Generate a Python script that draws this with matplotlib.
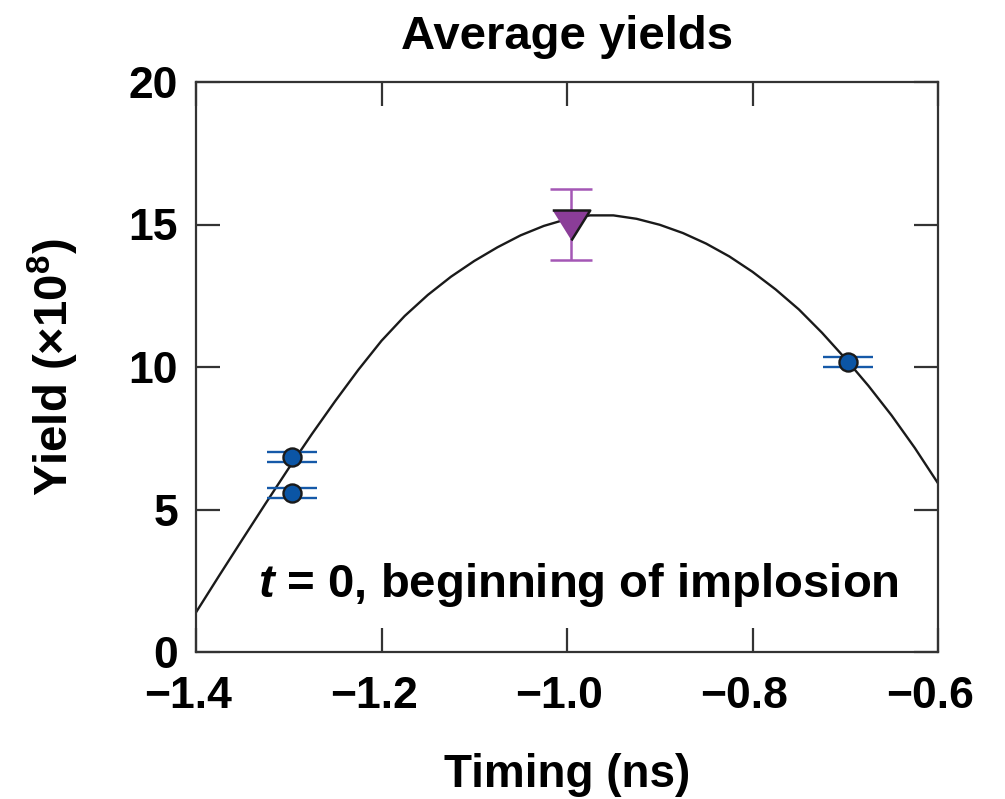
import matplotlib
matplotlib.use('Agg')
import matplotlib.pyplot as plt
from matplotlib.transforms import ScaledTranslation

plt.rcParams['font.family'] = ['Liberation Sans', 'DejaVu Sans']
plt.rcParams['font.weight'] = 'bold'
plt.rcParams['mathtext.fontset'] = 'custom'
plt.rcParams['mathtext.rm'] = 'Liberation Sans:bold'
plt.rcParams['mathtext.it'] = 'Liberation Sans:italic:bold'
plt.rcParams['mathtext.bf'] = 'Liberation Sans:bold'

# fit curve
curve_x = [-1.400, -1.375, -1.350, -1.325, -1.300, -1.275, -1.250, -1.225,
           -1.200, -1.175, -1.150, -1.125, -1.100, -1.075, -1.050, -1.025,
           -1.000, -0.975, -0.950, -0.925, -0.900, -0.875, -0.850, -0.825,
           -0.800, -0.775, -0.750, -0.725, -0.700, -0.675, -0.650, -0.625,
           -0.600]
curve_y = [1.39, 2.68, 3.95, 5.21, 6.45, 7.65, 8.80, 9.90,
           10.92, 11.79, 12.53, 13.17, 13.72, 14.20, 14.62, 14.95,
           15.19, 15.32, 15.32, 15.20, 14.99, 14.70, 14.33, 13.88,
           13.34, 12.72, 12.02, 11.20, 10.30, 9.34, 8.30, 7.16,
           5.92]

# blue shots
blue_x = [-1.297, -1.297, -0.697]
blue_y = [6.85, 5.58, 10.17]
blue_err = [0.17, 0.17, 0.17]

# purple average
purple_x = [-0.996]
purple_y = [15.0]
purple_err = [1.25]

xticks = [-1.4, -1.2, -1.0, -0.8, -0.6]
yticks = [0, 5, 10, 15, 20]

fig = plt.figure(figsize=(10.05, 7.99), dpi=100)
ax = fig.add_axes([196/1005, 1 - 652/799, 742/1005, 570/799])

ax.plot(curve_x, curve_y, color='#1a1a1a', lw=1.7, zorder=2)

ax.errorbar(blue_x, blue_y, yerr=blue_err, fmt='o', ms=13,
            mfc='#0b55a5', mec='#1a1a1a', mew=1.7,
            ecolor='#1559a8', elinewidth=1.8, capsize=18, capthick=2.0,
            zorder=3)

tri = [(-1, 0.8), (1, 0.8), (0, -0.8)]
ax.errorbar(purple_x, purple_y, yerr=purple_err, fmt='none',
            ecolor='#a457b5', elinewidth=1.8, capsize=15, capthick=1.8,
            zorder=3)
ax.plot(purple_x, purple_y, marker=tri, ms=27, ls='none',
        mfc='#8b3d98', mec='#1a1a1a', mew=1.8, zorder=4)

ax.set_xlim(-1.4, -0.6)
ax.set_ylim(0, 20)
ax.set_xticks(xticks)
ax.set_yticks(yticks)
ax.set_xticklabels(['\u22121.4', '\u22121.2', '\u22121.0', '\u22120.8', '\u22120.6'])
ax.set_yticklabels([str(v) for v in yticks])

for s in ax.spines.values():
    s.set_color('#333333')
    s.set_linewidth(1.6)
ax.tick_params(direction='in', length=17, width=1.6, color='#333333',
               top=True, right=True, labelsize=32)
ax.tick_params(axis='x', pad=17)
ax.tick_params(axis='y', pad=13)

# labels in the original sit a little left of their ticks
shift = ScaledTranslation(-8/100, 0, fig.dpi_scale_trans)
for lab in ax.get_xticklabels():
    lab.set_transform(lab.get_transform() + shift)

ax.set_title('Average yields', fontsize=34, fontweight='bold', pad=24)
ax.set_xlabel('Timing (ns)', fontsize=33, fontweight='bold')
ax.xaxis.set_label_coords(0.5, -0.177)
ax.set_ylabel('Yield (\u00d710$^{8}$)', fontsize=34, fontweight='bold')
ax.yaxis.set_label_coords(-0.155, 0.5)

ax.text(0.0836, 0.0965, r'$t$ = 0, beginning of implosion',
        transform=ax.transAxes, fontsize=34, fontweight='bold',
        ha='left', va='baseline')

fig.savefig('out.png', dpi=100)
